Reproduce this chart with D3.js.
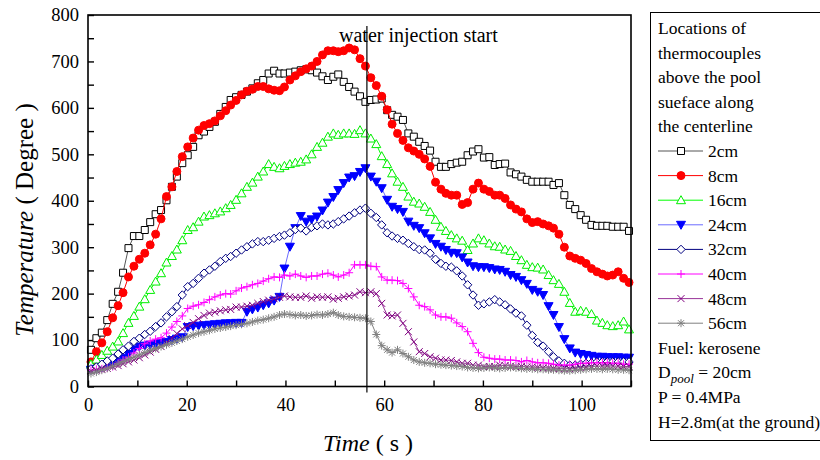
<!DOCTYPE html>
<html>
<head>
<meta charset="utf-8">
<script src="https://cdn.jsdelivr.net/npm/d3@7"></script>
<style>
  html, body { margin: 0; padding: 0; background: #fff; }
  svg { display: block; }
  svg text { font-family: "Liberation Serif", "Times New Roman", "DejaVu Serif", serif; }
</style>
</head>
<body>
<svg id="chart" width="820" height="460"></svg>
<script>
// sample times (s)
const time = [
  0.6, 1.7, 2.8, 3.9, 5.0, 6.1, 7.1, 8.2, 9.3, 10.4,
  11.5, 12.6, 13.7, 14.8, 15.9, 17.0, 18.0, 19.1, 20.2, 21.3,
  22.4, 23.5, 24.6, 25.7, 26.8, 27.9, 28.9, 30.0, 31.1, 32.2,
  33.3, 34.4, 35.5, 36.6, 37.7, 38.8, 39.8, 40.9, 42.0, 43.1,
  44.2, 45.3, 46.4, 47.5, 48.6, 49.7, 50.7, 51.8, 52.9, 54.0,
  55.1, 56.2, 57.3, 58.4, 59.5, 60.6, 61.6, 62.7, 63.8, 64.9,
  66.0, 67.1, 68.2, 69.3, 70.4, 71.5, 72.5, 73.6, 74.7, 75.8,
  76.9, 78.0, 79.1, 80.2, 81.3, 82.4, 83.4, 84.5, 85.6, 86.7,
  87.8, 88.9, 90.0, 91.1, 92.2, 93.3, 94.3, 95.4, 96.5, 97.6,
  98.7, 99.8, 100.9, 102.0, 103.1, 104.2, 105.2, 106.3, 107.4, 108.5,
  109.6
];

const t2cm = [
  79, 104, 116, 143, 178, 204, 245, 298, 324, 324,
  337, 354, 371, 380, 401, 430, 452, 481, 498, 516,
  541, 549, 559, 570, 587, 602, 617, 623, 628, 635,
  642, 653, 660, 674, 680, 674, 674, 676, 678, 681,
  683, 681, 676, 668, 660, 667, 672, 656, 645, 635,
  625, 613, 617, 618, 620, 595, 585, 581, 574, 545,
  538, 527, 518, 508, 484, 473, 473, 479, 482, 484,
  498, 506, 511, 493, 494, 477, 479, 480, 461, 457,
  452, 445, 441, 441, 441, 441, 434, 438, 412, 391,
  382, 369, 359, 348, 346, 346, 346, 344, 344, 344,
  335
];
const t8cm = [
  53, 75, 94, 118, 148, 174, 202, 236, 259, 274,
  287, 305, 328, 361, 409, 430, 463, 495, 516, 535,
  552, 562, 566, 572, 583, 594, 606, 616, 628, 636,
  640, 646, 646, 641, 638, 637, 645, 660, 669, 678,
  684, 690, 700, 714, 723, 723, 721, 723, 729, 725,
  706, 690, 665, 648, 625, 596, 565, 545, 530, 514,
  507, 500, 490, 474, 440, 425, 416, 412, 412, 392,
  396, 425, 438, 425, 420, 412, 412, 405, 391, 382,
  376, 361, 353, 355, 350, 346, 341, 328, 300, 281,
  276, 272, 265, 254, 247, 242, 238, 240, 247, 233,
  224
];
const t16cm = [
  48, 58, 68, 77, 86, 97, 115, 137, 152, 172,
  188, 208, 226, 244, 267, 281, 295, 315, 337, 343,
  355, 366, 369, 373, 377, 384, 391, 402, 416, 430,
  439, 452, 463, 479, 473, 470, 475, 479, 482, 484,
  489, 500, 516, 525, 538, 545, 542, 545, 545, 544,
  552, 545, 534, 522, 496, 479, 459, 441, 430, 409,
  398, 394, 387, 376, 359, 344, 335, 326, 319, 314,
  294, 308, 319, 315, 308, 302, 301, 295, 292, 281,
  272, 262, 257, 256, 252, 240, 229, 221, 204, 180,
  161, 163, 161, 156, 142, 137, 132, 130, 132, 140,
  123
];
const t24cm = [
  36, 38, 41, 44, 48, 54, 62, 70, 80, 86,
  88, 90, 92, 94, 96, 100, 103, 106, 128, 130,
  131, 132, 133, 134, 135, 136, 136, 137, 137, 161,
  166, 170, 175, 179, 185, 193, 254, 301, 341, 367,
  355, 360, 366, 379, 396, 408, 423, 438, 450, 453,
  462, 470, 452, 441, 427, 402, 387, 382, 376, 355,
  346, 341, 330, 319, 307, 301, 294, 288, 287, 278,
  267, 259, 257, 257, 255, 252, 251, 247, 240, 236,
  229, 221, 208, 204, 197, 173, 154, 128, 102, 82,
  73, 70, 68, 66, 64, 64, 63, 63, 63, 62,
  62
];
const t32cm = [
  38, 42, 48, 55, 61, 70, 79, 87, 97, 104,
  112, 119, 129, 137, 150, 161, 172, 197, 215, 222,
  233, 244, 251, 259, 269, 276, 280, 287, 294, 301,
  307, 312, 312, 315, 319, 323, 326, 331, 338, 341,
  335, 343, 346, 350, 348, 350, 355, 361, 367, 374,
  380, 384, 373, 364, 348, 331, 324, 319, 315, 308,
  301, 295, 294, 287, 274, 265, 259, 257, 249, 238,
  219, 197, 175, 178, 182, 187, 182, 176, 167, 158,
  152, 132, 110, 95, 87, 75, 64, 55, 50, 46,
  46, 48, 50, 51, 53, 53, 53, 53, 53, 53,
  53
];
const t40cm = [
  35, 37, 38, 40, 43, 50, 57, 63, 72, 82,
  92, 98, 102, 105, 115, 128, 140, 152, 168, 173,
  176, 181, 187, 193, 197, 200, 199, 206, 212, 215,
  219, 222, 227, 232, 236, 235, 240, 238, 242, 238,
  235, 238, 238, 242, 244, 240, 236, 240, 245, 262,
  262, 262, 259, 258, 236, 229, 229, 228, 222, 211,
  193, 175, 172, 165, 154, 150, 150, 147, 137, 129,
  118, 93, 73, 63, 61, 59, 59, 57, 57, 56,
  53, 56, 53, 51, 51, 50, 48, 46, 46, 46,
  48, 50, 50, 51, 51, 51, 51, 50, 50, 48,
  48
];
const t48cm = [
  33, 35, 37, 39, 42, 45, 49, 53, 57, 62,
  68, 74, 80, 86, 94, 104, 114, 124, 131, 138,
  146, 153, 158, 160, 163, 165, 166, 171, 171, 173,
  175, 179, 183, 186, 189, 192, 195, 193, 192, 192,
  195, 190, 193, 192, 193, 188, 190, 193, 195, 197,
  204, 202, 204, 200, 179, 154, 152, 154, 136, 118,
  96, 75, 71, 64, 61, 57, 57, 56, 53, 50,
  50, 46, 46, 43, 43, 43, 46, 45, 44, 43,
  43, 42, 42, 41, 40, 40, 39, 39, 38, 38,
  39, 41, 42, 43, 44, 44, 45, 44, 44, 43,
  43
];
const t56cm = [
  28, 31, 35, 39, 44, 49, 54, 59, 63, 68,
  73, 78, 82, 86, 90, 94, 98, 102, 107, 111,
  115, 118, 121, 124, 126, 128, 130, 132, 134, 136,
  139, 142, 144, 147, 150, 154, 156, 155, 153, 154,
  152, 153, 155, 154, 156, 159, 154, 151, 150, 149,
  148, 147, 140, 112, 88, 79, 73, 79, 71, 64,
  57, 53, 51, 50, 48, 47, 46, 45, 44, 43,
  41, 40, 39, 40, 41, 40, 39, 40, 41, 40,
  39, 38, 38, 37, 37, 36, 36, 35, 34, 34,
  35, 36, 37, 38, 38, 37, 38, 37, 36, 36,
  35
];

const seriesNames = ['2cm', '8cm', '16cm', '24cm', '32cm', '40cm', '48cm', '56cm'];
const xTicks = [0, 10, 20, 30, 40, 50, 60, 70, 80, 90, 100, 110];
const xLabels = [0, 20, 40, 60, 80, 100];
const yTicks = [0, 50, 100, 150, 200, 250, 300, 350, 400, 450, 500, 550, 600, 650, 700, 750, 800];
const yLabels = [0, 100, 200, 300, 400, 500, 600, 700, 800];
const injectionTime = 56.5;
const legendHeader = ['Locations of', 'thermocouples', 'above the pool', 'sueface along', 'the centerline'];

const serif = '"Liberation Serif", "Times New Roman", "DejaVu Serif", serif';

const shapes = {
  square: 'M-3.5,-3.5H3.5V3.5H-3.5Z',
  circle: 'M4,0A4,4 0 1,1 -4,0A4,4 0 1,1 4,0Z',
  tri: 'M0,-4.5L4.5,3.5H-4.5Z',
  triDown: 'M0,4.5L4.5,-3.5H-4.5Z',
  diamond: 'M0,-4.2L4.2,0L0,4.2L-4.2,0Z',
  plus: 'M-4,0H4M0,-4V4',
  cross: 'M-3.5,-3.5L3.5,3.5M-3.5,3.5L3.5,-3.5',
  star: 'M-4,0H4M0,-4V4M-3,-3L3,3M-3,3L3,-3'
};

const styles = [
  { line: '#555', stroke: '#000', fill: '#fff', shape: 'square' },
  { line: '#ff0000', stroke: '#ff0000', fill: '#ff0000', shape: 'circle' },
  { line: '#00ff00', stroke: '#00ee00', fill: '#fff', shape: 'tri' },
  { line: '#6b6bff', stroke: '#0000ff', fill: '#0000ff', shape: 'triDown' },
  { line: '#000080', stroke: '#000080', fill: '#fff', shape: 'diamond' },
  { line: '#ff00ff', stroke: '#ff00ff', fill: 'none', shape: 'plus' },
  { line: '#993399', stroke: '#800080', fill: 'none', shape: 'cross' },
  { line: '#808080', stroke: '#808080', fill: 'none', shape: 'star' }
];
const allValues = [t2cm, t8cm, t16cm, t24cm, t32cm, t40cm, t48cm, t56cm];

const svg = d3.select('#chart').attr('font-family', serif);
const L = 88, R = 631, T = 15, B = 386.5;
const x = d3.scaleLinear().domain([0, 110]).range([L, R]);
const y = d3.scaleLinear().domain([0, 800]).range([B, T]);

// axes (inward ticks)
const xAxis = svg.append('g').attr('transform', `translate(0,${B})`)
  .call(d3.axisBottom(x).tickValues(xTicks).tickSize(-6).tickPadding(11)
    .tickFormat(d => xLabels.includes(d) ? d : ''));
const yAxis = svg.append('g').attr('transform', `translate(${L},0)`)
  .call(d3.axisLeft(y).tickValues(yTicks).tickSize(-6).tickPadding(9)
    .tickFormat(d => yLabels.includes(d) ? d : ''));
[xAxis, yAxis].forEach(a => {
  a.attr('font-family', serif).attr('font-size', 18.5);
  a.select('.domain').remove();
  a.selectAll('line').attr('stroke', '#000').attr('stroke-width', 1.4);
  a.selectAll('text').attr('fill', '#000').attr('font-family', serif);
});

// series
const plot = svg.append('g');
seriesNames.forEach((name, k) => {
  const st = styles[k];
  const pts = time.map((t, i) => [t, allValues[k][i]]);
  plot.append('path')
    .attr('d', d3.line().x(d => x(d[0])).y(d => y(d[1]))(pts))
    .attr('fill', 'none').attr('stroke', st.line).attr('stroke-width', 1);
  plot.append('g').selectAll('path').data(pts).join('path')
    .attr('transform', d => `translate(${x(d[0])},${y(d[1])})`)
    .attr('d', shapes[st.shape])
    .attr('fill', st.fill).attr('stroke', st.stroke).attr('stroke-width', 1);
});

// water injection marker
svg.append('line').attr('x1', x(injectionTime)).attr('x2', x(injectionTime))
  .attr('y1', 26).attr('y2', B + 6).attr('stroke', '#000').attr('stroke-width', 1.2);
svg.append('text').attr('x', 339).attr('y', 42).attr('font-size', 20)
  .text('water injection start');

// frame
svg.append('rect').attr('x', L).attr('y', T).attr('width', R - L).attr('height', B - T)
  .attr('fill', 'none').attr('stroke', '#000').attr('stroke-width', 1.6);

// axis titles
const xt = svg.append('text').attr('x', 368).attr('y', 451).attr('text-anchor', 'middle')
  .attr('font-size', 24);
xt.append('tspan').attr('font-style', 'italic').text('Time');
xt.append('tspan').text(' ( s )');
const yt = svg.append('text').attr('transform', 'translate(33,220) rotate(-90)')
  .attr('text-anchor', 'middle').attr('font-size', 25);
yt.append('tspan').attr('font-style', 'italic').text('Temperature');
yt.append('tspan').text(' ( Degree )');

// legend
const lg = svg.append('g');
lg.append('rect').attr('x', 650.5).attr('y', 12.5).attr('width', 180).attr('height', 428)
  .attr('fill', '#fff').attr('stroke', '#000').attr('stroke-width', 1);
const rowY = i => 28 + i * 24.6;
const fs = 17.5;
legendHeader.forEach((s, i) => {
  lg.append('text').attr('x', 658).attr('y', rowY(i) + 6).attr('font-size', fs).text(s);
});
seriesNames.forEach((name, k) => {
  const st = styles[k];
  const cy = rowY(k + 5);
  lg.append('line').attr('x1', 658).attr('x2', 703).attr('y1', cy).attr('y2', cy)
    .attr('stroke', st.line).attr('stroke-width', 1);
  lg.append('path').attr('transform', `translate(681,${cy})`).attr('d', shapes[st.shape])
    .attr('fill', st.fill).attr('stroke', st.stroke).attr('stroke-width', 1);
  lg.append('text').attr('x', 708).attr('y', cy + 6).attr('font-size', fs).text(name);
});
lg.append('text').attr('x', 658).attr('y', rowY(13) + 6).attr('font-size', fs).text('Fuel: kerosene');
const dp = lg.append('text').attr('x', 658).attr('y', rowY(14) + 6).attr('font-size', fs);
dp.append('tspan').text('D');
dp.append('tspan').attr('dy', 5).attr('font-size', 13).attr('font-style', 'italic').text('pool');
dp.append('tspan').attr('dy', -5).text(' = 20cm');
lg.append('text').attr('x', 658).attr('y', rowY(15) + 6).attr('font-size', fs).text('P = 0.4MPa');
lg.append('text').attr('x', 658).attr('y', rowY(16) + 6).attr('font-size', fs).text('H=2.8m(at the ground)');
</script>
</body>
</html>
